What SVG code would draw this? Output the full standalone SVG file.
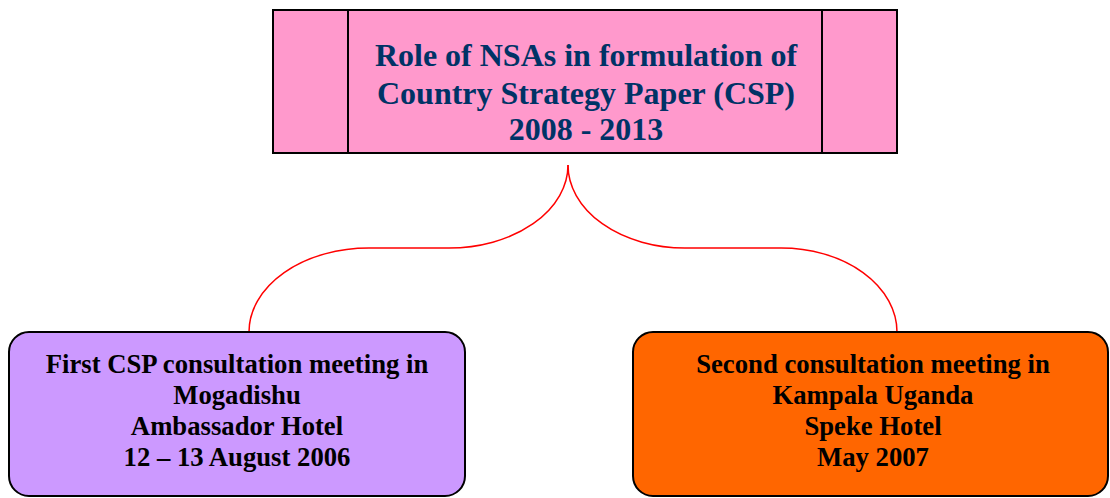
<svg xmlns="http://www.w3.org/2000/svg" width="1110" height="498" viewBox="0 0 1110 498">
<style>
.t{font-family:"Liberation Serif","Times New Roman",serif;font-weight:bold;text-anchor:middle}
.top{font-size:32px;fill:#003366}
.bot{font-size:26.7px;fill:#000}
.box{stroke:#000;stroke-width:2}
.conn{fill:none;stroke:#FF0000;stroke-width:1.5}
</style>
<rect width="1110" height="498" fill="#fff"/>
<g id="connectors">
<path class="conn" d="M568,165 A119,83 0 0 1 449,248 L369,248 A120,84 0 0 0 249,332"/>
<path class="conn" d="M568,165 A117,83 0 0 0 685,248 L781,248 A116,84 0 0 1 897,332"/>
</g>
<g id="node-top">
<rect class="box" x="273" y="10" width="624" height="143" fill="#FF99CC"/>
<line x1="348" y1="10" x2="348" y2="153" stroke="#000" stroke-width="2"/>
<line x1="822" y1="10" x2="822" y2="153" stroke="#000" stroke-width="2"/>
<text class="t top" x="586" y="66">Role of NSAs in formulation of</text>
<text class="t top" x="586" y="104">Country Strategy Paper (CSP)</text>
<text class="t top" x="586" y="140">2008 - 2013</text>
</g>
<g id="node-first">
<rect class="box" x="9" y="332" width="456" height="164" rx="20" fill="#CC99FF"/>
<text class="t bot" x="237" y="373">First CSP consultation meeting in</text>
<text class="t bot" x="237" y="404">Mogadishu</text>
<text class="t bot" x="237" y="435">Ambassador Hotel</text>
<text class="t bot" x="237" y="466">12 – 13 August 2006</text>
</g>
<g id="node-second">
<rect class="box" x="633" y="332" width="475" height="164" rx="20" fill="#FF6600"/>
<text class="t bot" x="873" y="373">Second consultation meeting in</text>
<text class="t bot" x="873" y="404">Kampala Uganda</text>
<text class="t bot" x="873" y="435">Speke Hotel</text>
<text class="t bot" x="873" y="466">May 2007</text>
</g>
</svg>
